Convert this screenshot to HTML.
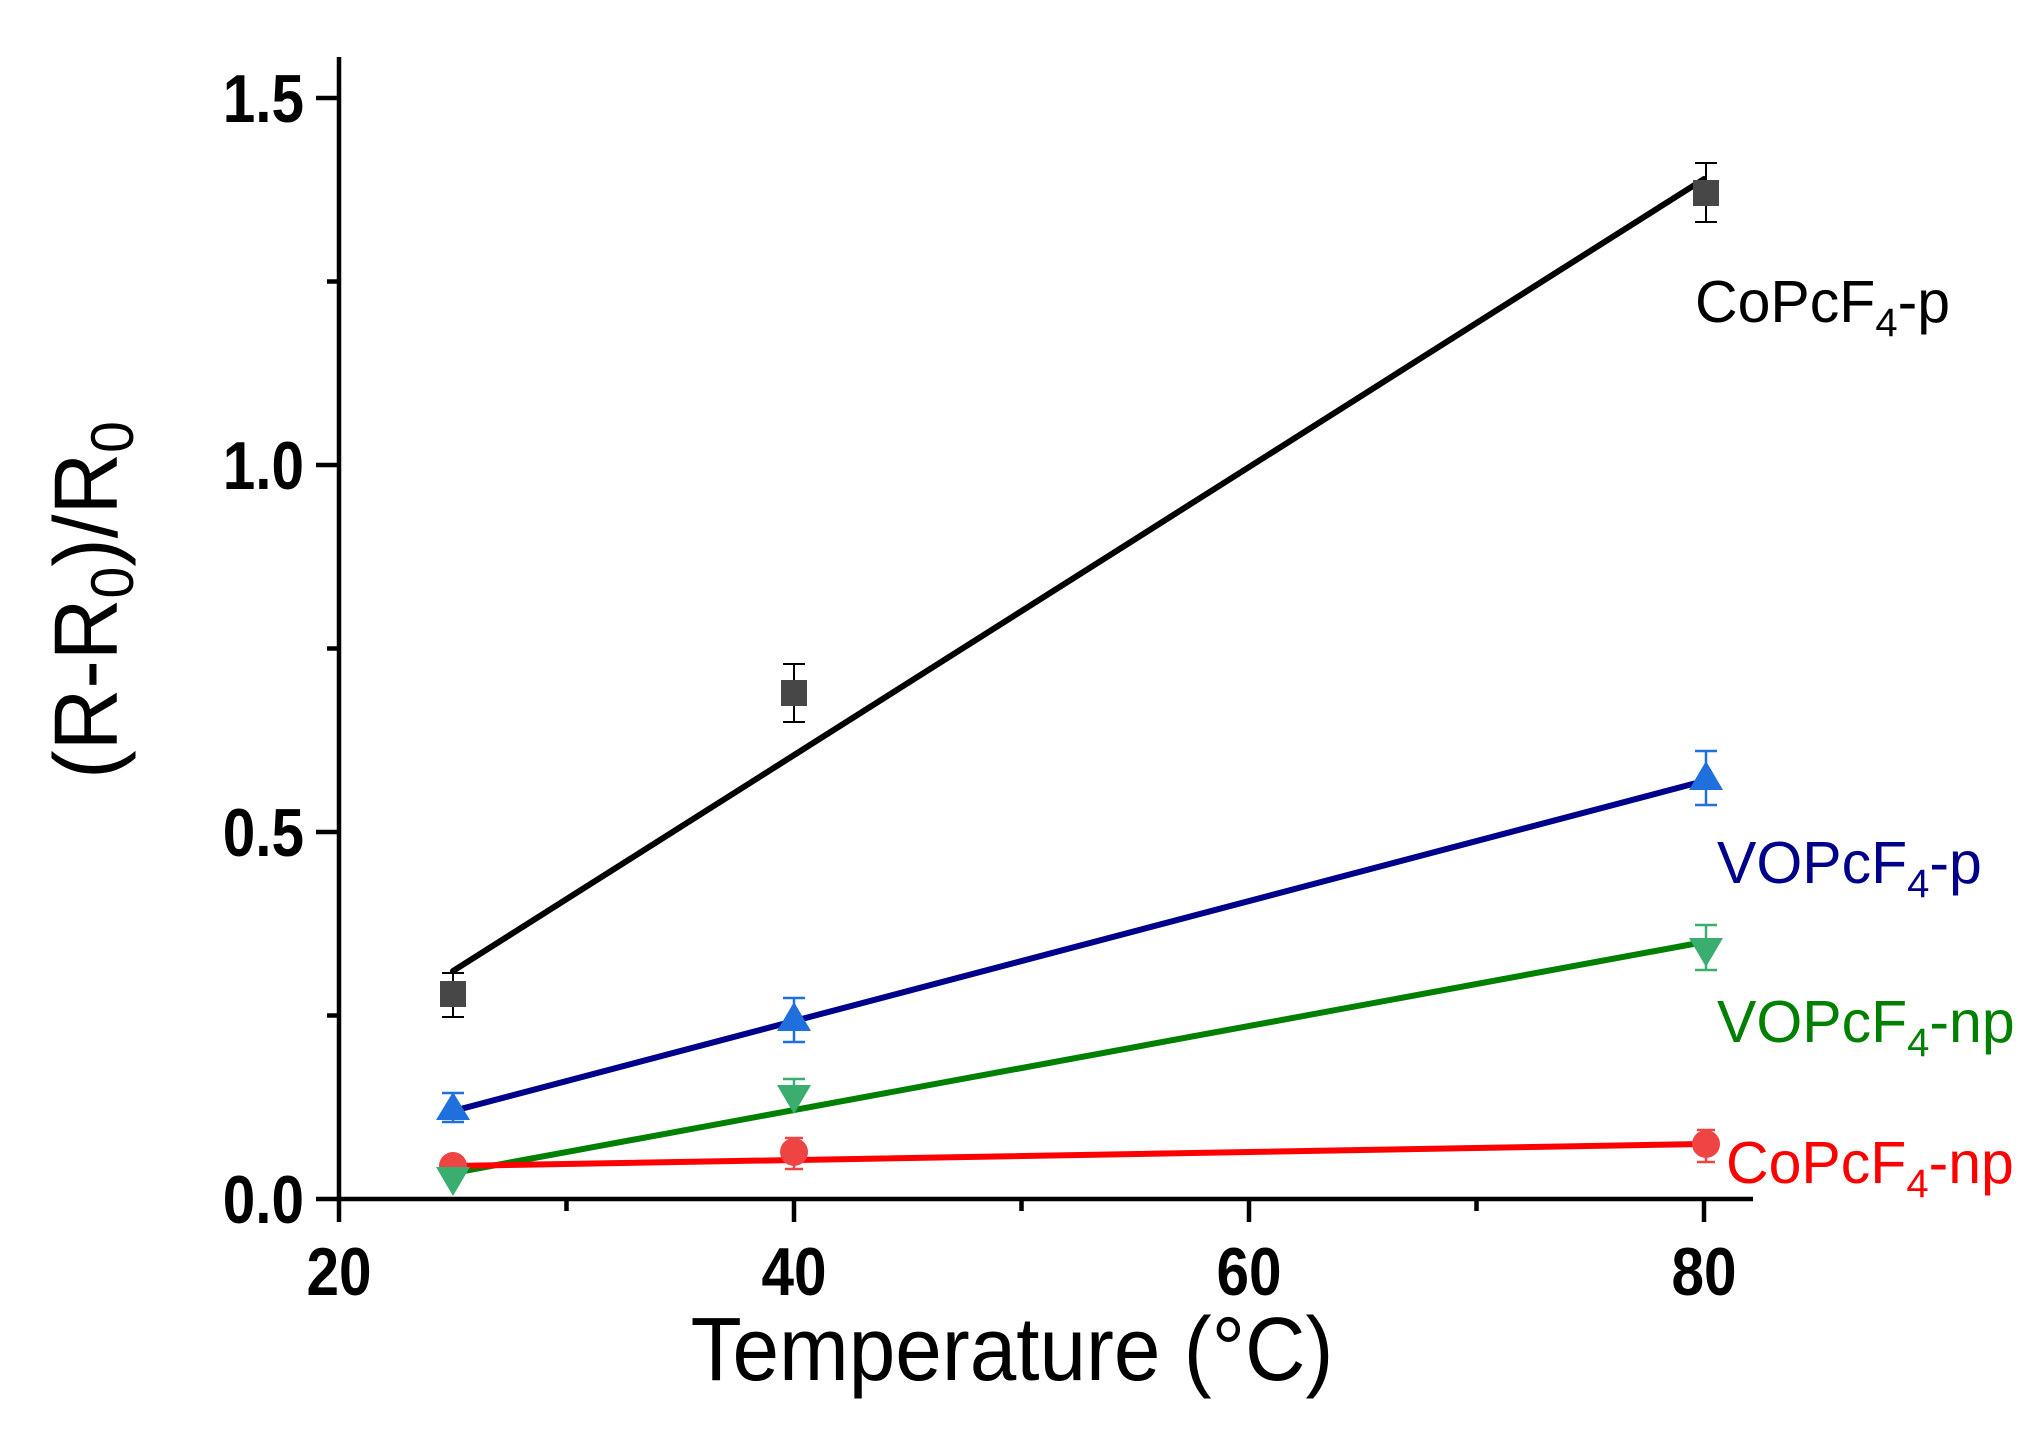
<!DOCTYPE html>
<html><head><meta charset="utf-8"><style>
html,body{margin:0;padding:0;background:#fff}
svg{display:block}
text{font-family:"Liberation Sans",Arial,sans-serif}
</style></head><body>
<svg width="2043" height="1432" viewBox="0 0 2043 1432" xmlns="http://www.w3.org/2000/svg">
<rect width="2043" height="1432" fill="#fff"/>
<g stroke="#000" stroke-width="4.5" fill="none">
<line x1="339" y1="57" x2="339" y2="1201"/>
<line x1="337" y1="1199" x2="1753" y2="1199"/>
<line x1="316" y1="1199" x2="339" y2="1199"/>
<line x1="316" y1="832" x2="339" y2="832"/>
<line x1="316" y1="465" x2="339" y2="465"/>
<line x1="316" y1="98" x2="339" y2="98"/>
<line x1="327" y1="1015.5" x2="339" y2="1015.5"/>
<line x1="327" y1="648.5" x2="339" y2="648.5"/>
<line x1="327" y1="281.5" x2="339" y2="281.5"/>
<line x1="339" y1="1199" x2="339" y2="1222"/>
<line x1="794" y1="1199" x2="794" y2="1222"/>
<line x1="1249" y1="1199" x2="1249" y2="1222"/>
<line x1="1704" y1="1199" x2="1704" y2="1222"/>
<line x1="566.5" y1="1199" x2="566.5" y2="1211"/>
<line x1="1021.5" y1="1199" x2="1021.5" y2="1211"/>
<line x1="1476.5" y1="1199" x2="1476.5" y2="1211"/>
</g>
<g font-size="68" font-weight="bold" text-anchor="end">
<text transform="translate(304,1223) scale(0.86,1)">0.0</text>
<text transform="translate(304,856) scale(0.86,1)">0.5</text>
<text transform="translate(304,489) scale(0.86,1)">1.0</text>
<text transform="translate(304,122) scale(0.86,1)">1.5</text>
</g>
<g font-size="68" font-weight="bold" text-anchor="middle">
<text transform="translate(339,1295) scale(0.86,1)">20</text>
<text transform="translate(794,1295) scale(0.86,1)">40</text>
<text transform="translate(1249,1295) scale(0.86,1)">60</text>
<text transform="translate(1704,1295) scale(0.86,1)">80</text>
</g>
<text transform="translate(1012,1380) scale(0.93,1)" font-size="90" text-anchor="middle">Temperature (°C)</text>
<text transform="translate(117,600) rotate(-90) scale(0.95,1)" font-size="90" text-anchor="middle">(R-R<tspan font-size="60" dy="16">0</tspan><tspan dy="-16">)/R</tspan><tspan font-size="60" dy="16">0</tspan></text>

<g stroke-width="6" stroke-linecap="round">
<line x1="453" y1="971" x2="1704" y2="179" stroke="#000"/>
<line x1="453" y1="1111" x2="1704" y2="781" stroke="#00008b"/>
<line x1="453" y1="1173" x2="1704" y2="942" stroke="#008000"/>
<line x1="453" y1="1166" x2="1704" y2="1144" stroke="#ff0000"/>
</g>

<g stroke="#000" stroke-width="2">
<line x1="453" y1="973" x2="453" y2="1017"/><line x1="442" y1="973" x2="464" y2="973"/><line x1="442" y1="1017" x2="464" y2="1017"/>
<line x1="794" y1="664" x2="794" y2="722"/><line x1="783" y1="664" x2="805" y2="664"/><line x1="783" y1="722" x2="805" y2="722"/>
<line x1="1706" y1="163" x2="1706" y2="222"/><line x1="1695" y1="163" x2="1717" y2="163"/><line x1="1695" y1="222" x2="1717" y2="222"/>
</g>
<g fill="#474747">
<rect x="440" y="981" width="26" height="26"/>
<rect x="781" y="680" width="26" height="26"/>
<rect x="1693" y="180" width="26" height="26"/>
</g>

<g stroke="#1f6fdc" stroke-width="2.5">
<line x1="453" y1="1093" x2="453" y2="1122"/><line x1="442" y1="1093" x2="464" y2="1093"/><line x1="442" y1="1122" x2="464" y2="1122"/>
<line x1="794" y1="998" x2="794" y2="1042"/><line x1="783" y1="998" x2="805" y2="998"/><line x1="783" y1="1042" x2="805" y2="1042"/>
<line x1="1706" y1="751" x2="1706" y2="805"/><line x1="1695" y1="751" x2="1717" y2="751"/><line x1="1695" y1="805" x2="1717" y2="805"/>
</g>
<g fill="#1f6fdc">
<polygon points="453,1092 470,1120 436,1120"/>
<polygon points="794,1002 811,1031 777,1031"/>
<polygon points="1706,761 1723,790 1689,790"/>
</g>

<g stroke="#ef4444" stroke-width="2.5">
<line x1="794" y1="1138" x2="794" y2="1169"/><line x1="785" y1="1138" x2="803" y2="1138"/><line x1="785" y1="1169" x2="803" y2="1169"/>
<line x1="1706" y1="1130" x2="1706" y2="1162"/><line x1="1697" y1="1130" x2="1715" y2="1130"/><line x1="1697" y1="1162" x2="1715" y2="1162"/>
</g>
<g fill="#ef4444">
<circle cx="453" cy="1166" r="14"/>
<circle cx="794" cy="1152" r="14"/>
<circle cx="1706" cy="1144" r="14"/>
</g>

<g stroke="#3aae6e" stroke-width="2.5">
<line x1="794" y1="1079" x2="794" y2="1106"/><line x1="783" y1="1079" x2="805" y2="1079"/>
<line x1="1706" y1="925" x2="1706" y2="970"/><line x1="1695" y1="925" x2="1717" y2="925"/><line x1="1695" y1="970" x2="1717" y2="970"/>
</g>
<g fill="#3aae6e">
<polygon points="436,1167 470,1167 453,1196"/>
<polygon points="777,1085 811,1085 794,1114"/>
<polygon points="1689,938 1723,938 1706,967"/>
</g>

<g font-size="59">
<text x="1695" y="322" fill="#000">CoPcF<tspan font-size="40" dy="14">4</tspan><tspan dy="-14">-p</tspan></text>
<text x="1717" y="883" fill="#00008b">VOPcF<tspan font-size="40" dy="14">4</tspan><tspan dy="-14">-p</tspan></text>
<text x="1717" y="1042" fill="#008000">VOPcF<tspan font-size="40" dy="14">4</tspan><tspan dy="-14">-np</tspan></text>
<text x="1726" y="1183" fill="#ff0000">CoPcF<tspan font-size="40" dy="14">4</tspan><tspan dy="-14">-np</tspan></text>
</g>
</svg>
</body></html>
